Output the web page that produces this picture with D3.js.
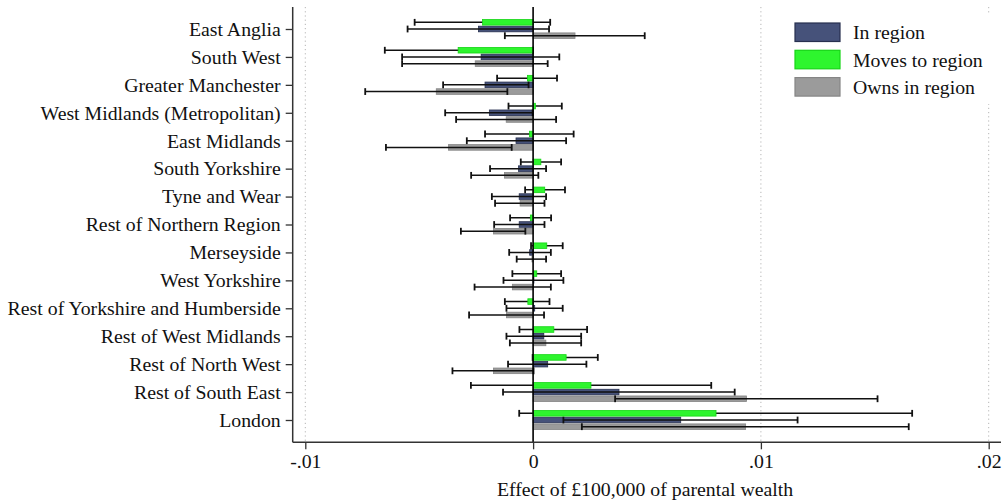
<!DOCTYPE html>
<html>
<head>
<meta charset="utf-8">
<script src="https://cdn.jsdelivr.net/npm/d3@7"></script>
<style>
  html, body { margin: 0; padding: 0; background: #fff; }
  svg { display: block; }
  text { font-family: "Liberation Serif", "Times New Roman", serif; fill: #111; }
</style>
</head>
<body>
<svg id="chart" width="1002" height="500"></svg>
<script>
// Regions, top to bottom
const categories = [
  "East Anglia", "South West", "Greater Manchester", "West Midlands (Metropolitan)",
  "East Midlands", "South Yorkshire", "Tyne and Wear", "Rest of Northern Region",
  "Merseyside", "West Yorkshire", "Rest of Yorkshire and Humberside",
  "Rest of West Midlands", "Rest of North West", "Rest of South East", "London"
];

// Point estimates and 95% interval bounds (effect per £100,000 of parental wealth)
const inRegion   = [-0.00240, -0.00228, -0.00211, -0.00192, -0.00075, -0.00064, -0.00061, -0.00061, -0.00015, 0.00003, 0.00007, 0.00047, 0.00064, 0.00377, 0.00648];
const inRegionLo = [-0.00551, -0.00575, -0.00395, -0.00386, -0.00291, -0.00189, -0.00181, -0.00171, -0.00105, -0.00130, -0.00117, -0.00117, -0.00110, -0.00132, 0.00133];
const inRegionHi = [0.00070, 0.00115, -0.00020, -0.00002, 0.00145, 0.00057, 0.00057, 0.00050, 0.00078, 0.00133, 0.00130, 0.00211, 0.00234, 0.00885, 0.01161];

const movesTo   = [-0.00222, -0.00329, -0.00025, 0.00010, -0.00016, 0.00034, 0.00051, -0.00012, 0.00060, 0.00016, -0.00023, 0.00091, 0.00145, 0.00254, 0.00803];
const movesToLo = [-0.00520, -0.00651, -0.00158, -0.00108, -0.00211, -0.00054, -0.00035, -0.00101, -0.00009, -0.00091, -0.00124, -0.00060, -0.00002, -0.00273, -0.00061];
const movesToHi = [0.00075, 0.00000, 0.00105, 0.00126, 0.00178, 0.00123, 0.00140, 0.00079, 0.00130, 0.00123, 0.00072, 0.00237, 0.00284, 0.00782, 0.01664];

const ownsIn   = [0.00184, -0.00254, -0.00425, -0.00118, -0.00371, -0.00126, -0.00057, -0.00174, -0.00005, -0.00091, -0.00117, 0.00056, -0.00174, 0.00937, 0.00933];
const ownsInLo = [-0.00124, -0.00575, -0.00737, -0.00338, -0.00646, -0.00272, -0.00167, -0.00317, -0.00072, -0.00257, -0.00281, -0.00102, -0.00354, 0.00360, 0.00214];
const ownsInHi = [0.00490, 0.00064, -0.00113, 0.00101, -0.00094, 0.00023, 0.00050, -0.00034, 0.00057, 0.00078, 0.00048, 0.00211, 0.00002, 0.01512, 0.01649];

const tickValues = [-0.01, 0, 0.01, 0.02];
const tickLabels = ["-.01", "0", ".01", ".02"];
const seriesNames = ["In region", "Moves to region", "Owns in region"];
const xTitle = "Effect of £100,000 of parental wealth";

const svg = d3.select("#chart");
const FONT = 19.8;

const plotLeft = 292.7, plotRight = 1001, plotTop = 7, plotBottom = 442.3;

const x = d3.scaleLinear().domain([-0.01, 0.02]).range([305.3, 988.7]);
const y = d3.scalePoint().domain(categories).range([29, 420]);

const series = [
  { name: seriesNames[0], v: inRegion, lo: inRegionLo, hi: inRegionHi, off: 0,
    fill: "#46527a", stroke: "#27304f" },
  { name: seriesNames[1], v: movesTo, lo: movesToLo, hi: movesToHi, off: -6.7,
    fill: "#2ef52e", stroke: "#16d516" },
  { name: seriesNames[2], v: ownsIn, lo: ownsInLo, hi: ownsInHi, off: 6.7,
    fill: "#9b9b9b", stroke: "#858585" }
];
const barH = 5.6;

// dotted reference lines
svg.append("g").selectAll("line")
  .data(tickValues.filter(d => d !== 0))
  .join("line")
  .attr("x1", d => x(d)).attr("x2", d => x(d))
  .attr("y1", plotTop).attr("y2", plotBottom)
  .attr("stroke", "#b5b5b5").attr("stroke-width", 1)
  .attr("stroke-dasharray", "1.2,3");

// bars for one series
function drawBars(s) {
  svg.append("g").selectAll("rect")
    .data(categories.map((c, i) => ({ c, v: s.v[i] })))
    .join("rect")
    .attr("x", d => Math.min(x(0), x(d.v)))
    .attr("width", d => Math.max(Math.abs(x(d.v) - x(0)), 0.8))
    .attr("y", d => y(d.c) + s.off - barH / 2)
    .attr("height", barH)
    .attr("fill", s.fill)
    .attr("stroke", s.stroke)
    .attr("stroke-width", 0.8);
}

// interval lines with end caps
function drawCI(s) {
  const g = svg.append("g").attr("stroke", "#111").attr("fill", "none");
  const rows = categories.map((c, i) => ({ yy: y(c) + s.off, lo: s.lo[i], hi: s.hi[i] }));
  g.selectAll("line.ci").data(rows).join("line").attr("class", "ci")
    .attr("x1", d => x(d.lo)).attr("x2", d => x(d.hi))
    .attr("y1", d => d.yy).attr("y2", d => d.yy)
    .attr("stroke-width", 1.5);
  ["lo", "hi"].forEach(k => {
    g.selectAll("line.cap-" + k).data(rows).join("line").attr("class", "cap-" + k)
      .attr("x1", d => x(d[k])).attr("x2", d => x(d[k]))
      .attr("y1", d => d.yy - 3.4).attr("y2", d => d.yy + 3.4)
      .attr("stroke-width", 1.8);
  });
}

drawBars(series[0]);
drawBars(series[2]);
drawCI(series[0]);
drawCI(series[2]);
drawCI(series[1]);
drawBars(series[1]);

// zero line
svg.append("line")
  .attr("x1", x(0)).attr("x2", x(0))
  .attr("y1", plotTop).attr("y2", plotBottom)
  .attr("stroke", "#000").attr("stroke-width", 1.6);

// y axis
const yAxis = svg.append("g")
  .attr("transform", `translate(${plotLeft},0)`)
  .call(d3.axisLeft(y).tickSize(7).tickPadding(5));
yAxis.select(".domain").remove();
yAxis.selectAll(".tick line").attr("stroke", "#333").attr("stroke-width", 1.3);
yAxis.selectAll(".tick text")
  .attr("font-size", FONT).attr("fill", "#111")
  .attr("font-family", "'Liberation Serif', 'Times New Roman', serif");
svg.append("line")
  .attr("x1", plotLeft).attr("x2", plotLeft)
  .attr("y1", plotTop).attr("y2", plotBottom)
  .attr("stroke", "#333").attr("stroke-width", 1.5);

// x axis
const xAxis = svg.append("g")
  .attr("transform", `translate(0,${plotBottom})`)
  .call(d3.axisBottom(x).tickValues(tickValues)
    .tickFormat((d, i) => tickLabels[i]).tickSize(7).tickPadding(5));
xAxis.select(".domain").remove();
xAxis.selectAll(".tick line").attr("stroke", "#333").attr("stroke-width", 1.3);
xAxis.selectAll(".tick text")
  .attr("font-size", FONT).attr("fill", "#111")
  .attr("font-family", "'Liberation Serif', 'Times New Roman', serif");
svg.append("line")
  .attr("x1", plotLeft).attr("x2", plotRight)
  .attr("y1", plotBottom).attr("y2", plotBottom)
  .attr("stroke", "#333").attr("stroke-width", 1.5);

svg.append("text")
  .attr("x", 645)
  .attr("y", 496)
  .attr("text-anchor", "middle")
  .attr("font-size", FONT)
  .text(xTitle);

// legend
const legend = svg.append("g").attr("transform", "translate(783,14)");
legend.append("rect").attr("x", 0).attr("y", 0).attr("width", 214).attr("height", 90).attr("fill", "#fff");
const legendOrder = [series[0], series[1], series[2]];
legendOrder.forEach((s, i) => {
  const row = legend.append("g").attr("transform", `translate(12,${9 + i * 27.3})`);
  row.append("rect").attr("width", 45).attr("height", 18.5)
    .attr("fill", s.fill).attr("stroke", s.stroke).attr("stroke-width", 1.2);
  row.append("text").attr("x", 58).attr("y", 9.5).attr("dy", "0.35em")
    .attr("font-size", FONT).text(s.name);
});
</script>
</body>
</html>
